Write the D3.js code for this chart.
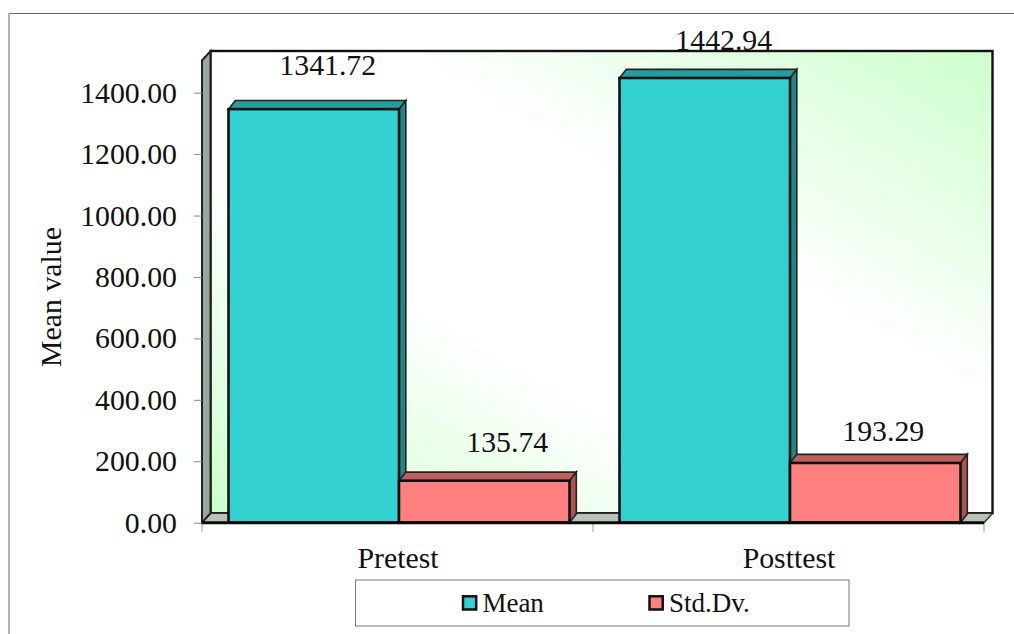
<!DOCTYPE html>
<html>
<head>
<meta charset="utf-8">
<script src="https://cdnjs.cloudflare.com/ajax/libs/d3/7.8.5/d3.min.js"></script>
<style>
html,body{margin:0;padding:0;background:#fff}
svg{display:block}
text{font-family:"Liberation Serif","Times New Roman",serif;fill:#111}
</style>
</head>
<body>
<svg id="chart" width="1014" height="634"></svg>
<script>
const categories = ["Pretest", "Posttest"];
const seriesNames = ["Mean", "Std.Dv."];
const meanValues = [1341.72, 1442.94];
const stdValues = [135.74, 193.29];
const tickValues = [0, 200, 400, 600, 800, 1000, 1200, 1400];

const faceColors = ["#33d1d1", "#ff8080"];
const topColors = ["#269c9c", "#bf6060"];
const sideColors = ["#1f8585", "#a85454"];

const fontSize = 29.8;
const svg = d3.select("#chart");
const wallDX = 8.5, wallDY = -9.5;
const barDX = 6.8, barDY = -8.6;

const x = d3.scaleBand().domain(categories).range([202, 984]);
const inner = d3.scaleBand().domain(seriesNames).range([26.5, 367.5]);
const y = d3.scaleLinear().domain([0, 1400]).range([522.7, 92.7]);
// columns stand on a plane slightly in front of the axis plane
const yBar = d3.scaleLinear().domain([0, 1400]).range([522.5, 91.2]);
const yTop = 60.5;

// chart frame: only the top and left edges are visible
svg.append("line").attr("x1", 9).attr("x2", 1014).attr("y1", 13.5).attr("y2", 13.5).attr("stroke", "#666");
svg.append("line").attr("x1", 9).attr("x2", 9).attr("y1", 13).attr("y2", 634).attr("stroke", "#b4b4b4").attr("stroke-width", 2);

const defs = svg.append("defs");
const grad = defs.append("linearGradient").attr("id", "wall")
  .attr("x1", 0).attr("y1", 1).attr("x2", 1).attr("y2", 0);
grad.append("stop").attr("offset", 0).attr("stop-color", "#ccffcc");
grad.append("stop").attr("offset", 0.36).attr("stop-color", "#ffffff");
grad.append("stop").attr("offset", 0.62).attr("stop-color", "#ffffff");
grad.append("stop").attr("offset", 1).attr("stop-color", "#ccffcc");

const poly = pts => "M" + pts.map(p => p.join(",")).join("L") + "Z";
const x0 = x.range()[0], x1 = x.range()[1], yb = y(0);

// back wall, side wall and floor of the 3D box
svg.append("rect").attr("x", x0 + wallDX).attr("y", yTop + wallDY)
  .attr("width", x1 - x0).attr("height", yb - yTop)
  .attr("fill", "url(#wall)").attr("stroke", "#111").attr("stroke-width", 2.4);
svg.append("path").attr("d", poly([[x0, yb], [x0 + wallDX, yb + wallDY], [x1 + wallDX, yb + wallDY], [x1, yb]]))
  .attr("fill", "#b8c2b6").attr("stroke", "#333").attr("stroke-width", 1.5);
svg.append("path").attr("d", poly([[x0, yb], [x0 + wallDX, yb + wallDY], [x0 + wallDX, yTop + wallDY], [x0, yTop]]))
  .attr("fill", "#9aa89a").attr("stroke", "#222").attr("stroke-width", 2);

// value axis
const yAxis = d3.axisLeft(y).tickValues(tickValues).tickFormat(d3.format(".2f")).tickSize(8).tickPadding(17);
const gy = svg.append("g").attr("transform", `translate(${x0},0)`).call(yAxis);
gy.select(".domain").remove();
gy.selectAll(".tick line").attr("stroke", "#888");
gy.selectAll("text").attr("font-size", fontSize).style("fill", "#111");

// category axis
const xTicks = [x0, x.step() + x0, x1];
svg.selectAll(".xtick").data(xTicks).enter().append("line").attr("class", "xtick")
  .attr("x1", d => d).attr("x2", d => d).attr("y1", yb).attr("y2", yb + 9).attr("stroke", "#999");
svg.selectAll(".xlabel").data(categories).enter().append("text").attr("class", "xlabel")
  .attr("x", d => x(d) + x.bandwidth() / 2 + 0.5).attr("y", 568).attr("text-anchor", "middle")
  .attr("font-size", fontSize).text(d => d);

// columns, back to front per category
const labelNudge = [[14, -34], [23, -29], [19, -28], [8, -22]];
const rows = [];
categories.forEach((c, i) => {
  rows.push({cat: c, s: 0, value: meanValues[i], nudge: labelNudge[i * 2]});
  rows.push({cat: c, s: 1, value: stdValues[i], nudge: labelNudge[i * 2 + 1]});
});
const bar = svg.selectAll(".bar").data(rows).enter().append("g").attr("class", "bar");
bar.each(function (d) {
  const g = d3.select(this);
  const l = x(d.cat) + inner(seriesNames[d.s]), r = l + inner.bandwidth(), t = yBar(d.value), b = yBar(0);
  g.append("path").attr("d", poly([[l, t], [l + barDX, t + barDY], [r + barDX, t + barDY], [r, t]]))
    .attr("fill", topColors[d.s]).attr("stroke", "#222").attr("stroke-width", 1.6);
  g.append("path").attr("d", poly([[r, t], [r + barDX, t + barDY], [r + barDX, b + barDY], [r, b]]))
    .attr("fill", sideColors[d.s]).attr("stroke", "#222").attr("stroke-width", 1.6);
  g.append("rect").attr("x", l).attr("y", t).attr("width", r - l).attr("height", b - t)
    .attr("fill", faceColors[d.s]).attr("stroke", "#111").attr("stroke-width", 2.6);
});
svg.append("line").attr("x1", x0).attr("x2", x1).attr("y1", yb).attr("y2", yb).attr("stroke", "#0a0a0a").attr("stroke-width", 3);

// value labels
svg.selectAll(".vlabel").data(rows).enter().append("text").attr("class", "vlabel")
  .attr("x", d => x(d.cat) + inner(seriesNames[d.s]) + inner.bandwidth() / 2 + d.nudge[0])
  .attr("y", d => yBar(d.value) + d.nudge[1])
  .attr("text-anchor", "middle").attr("font-size", fontSize)
  .text(d => d3.format(".2f")(d.value));

// axis title
svg.append("text").attr("transform", "translate(61,297) rotate(-90)")
  .attr("text-anchor", "middle").attr("font-size", fontSize).text("Mean value");

// legend
svg.append("rect").attr("x", 355.5).attr("y", 580).attr("width", 493.5).attr("height", 46)
  .attr("fill", "#fff").attr("stroke", "#777");
const legendX = [463, 649.5];
const lg = svg.selectAll(".lg").data(seriesNames).enter().append("g").attr("class", "lg")
  .attr("transform", (d, i) => `translate(${legendX[i]},596.3)`);
lg.append("rect").attr("width", 13.2).attr("height", 13.2).attr("fill", (d, i) => faceColors[i])
  .attr("stroke", "#111").attr("stroke-width", 2.5);
lg.append("text").attr("x", 19.4).attr("y", 15.4).attr("font-size", 27).text(d => d);
</script>
</body>
</html>
